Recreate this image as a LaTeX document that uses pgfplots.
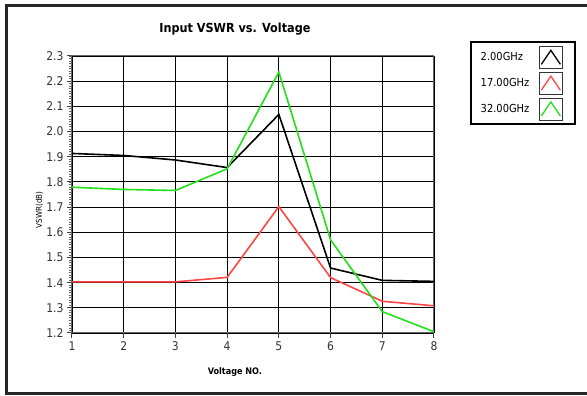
\documentclass[border=0pt]{standalone}
\usepackage{fontspec}
\setmainfont{DejaVu Sans Condensed}
\usepackage{pgfplots}
\pgfplotsset{compat=1.18}
\definecolor{cgreen}{HTML}{22E01A}
\definecolor{cred}{HTML}{FF4545}
\begin{document}
\begin{tikzpicture}
\useasboundingbox (0pt,0pt) rectangle (587pt,396pt);
\fill[white] (0pt,0pt) rectangle (587pt,396pt);
\draw[line width=3.5pt,black!85] (6.5pt,2.5pt) rectangle (600pt,390.5pt);
\begin{axis}[
  at={(72pt,63pt)}, anchor=south west,
  scale only axis, width=362pt, height=277pt,
  xmin=1, xmax=8, ymin=1.2, ymax=2.3,
  xtick={1,...,8},
  ytick={1.2,1.3,...,2.3},
  minor ytick={1.21,1.22,...,2.3},
  yticklabel style={/pgf/number format/fixed,/pgf/number format/precision=1,/pgf/number format/fixed zerofill},
  /pgf/number format/assume math mode=true,
  xmajorgrids, ymajorgrids,
  major grid style={black, line width=1.1pt},
  axis line style={black!60, line width=1pt},
  major tick style={black!75, line width=1pt},
  minor tick style={black!60, line width=0.8pt},
  major tick length=5pt, minor tick length=3pt,
  tick align=outside,
  xtick pos=left, ytick pos=left,
  ticklabel style={font=\fontsize{12}{12}\selectfont, text=black!80},
  title={Input VSWR vs. Voltage},
  title style={at={(0.45,1.075)}, anchor=center, font=\fontsize{12.5}{13}\selectfont\bfseries},
  xlabel={Voltage NO.},
  xlabel style={at={(0.45,-0.141)}, anchor=center, font=\fontsize{9}{9}\selectfont\bfseries},
  ylabel={VSWR(dB)},
  ylabel style={at={(-0.09,0.444)}, anchor=center, font=\fontsize{8}{8}\selectfont},
  legend style={at={(1.099,1.054)}, anchor=north west, draw=black, line width=1.8pt,
    font=\fontsize{11}{11}\selectfont, row sep=3pt, inner xsep=8pt, inner ysep=4pt},
  legend cell align=left,
  legend plot pos=right,
  legend image code/.code={
    \path[draw=none] (0,0) -- (36pt,0);
    \draw[black!80, line width=0.8pt, fill=white] (8pt,-11pt) rectangle (31pt,11pt);
    \draw[#1, line width=1.3pt] (10pt,-7pt) -- (19.5pt,7pt) -- (29pt,-7pt);
  },
]
\addplot[black, line width=1.6pt] coordinates {(1,1.913) (2,1.905) (3,1.887) (4,1.857) (5,2.068) (6,1.458) (7,1.409) (8,1.405)};
\addlegendentry{2.00GHz}
\addplot[cred, line width=1.6pt] coordinates {(1,1.403) (2,1.403) (3,1.403) (4,1.421) (5,1.702) (6,1.42) (7,1.326) (8,1.308)};
\addlegendentry{17.00GHz}
\addplot[cgreen, line width=1.6pt] coordinates {(1,1.779) (2,1.770) (3,1.766) (4,1.852) (5,2.236) (6,1.57) (7,1.285) (8,1.205)};
\addlegendentry{32.00GHz}
\end{axis}
\end{tikzpicture}
\end{document}
